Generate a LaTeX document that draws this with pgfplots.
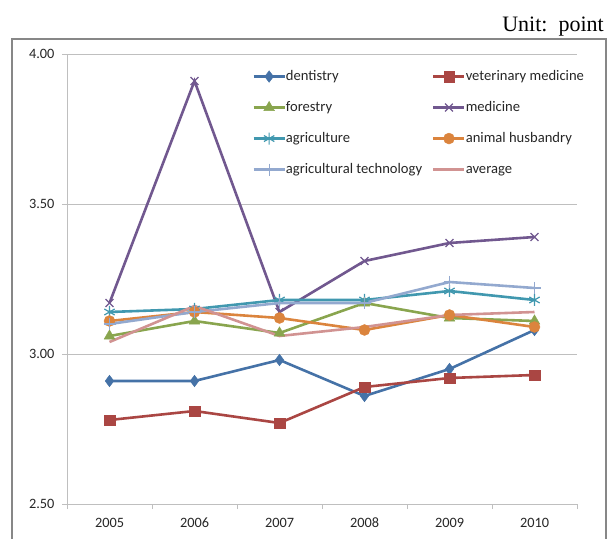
\documentclass[border=0pt]{standalone}
\usepackage{pgfplots}
\pgfplotsset{compat=1.18}
\usepackage{fontspec}
\setmainfont{Carlito}
\newfontfamily\unitfont{Liberation Serif}

\definecolor{cDent}{HTML}{4572A7}
\definecolor{cVet}{HTML}{AA4643}
\definecolor{cFor}{HTML}{89A54E}
\definecolor{cMed}{HTML}{71588F}
\definecolor{cAgr}{HTML}{4198AF}
\definecolor{cAni}{HTML}{DB843D}
\definecolor{cTec}{HTML}{93A9CF}
\definecolor{cAvg}{HTML}{D19392}
\definecolor{borderGray}{HTML}{878787}
\definecolor{gridGray}{HTML}{BFBFBF}

\begin{document}
\begin{tikzpicture}[x=1pt,y=1pt]
\useasboundingbox (0,0) rectangle (615,538);
% outer frame of the chart
\draw[line width=1.6pt, borderGray] (12,-3) -- (12,499) -- (606,499) -- (606,-3);
\node[anchor=base east, inner sep=0pt, font=\unitfont\fontsize{22}{26}\selectfont] at (604,506) {Unit:\ \ point};

\begin{axis}[
  at={(67pt,34pt)}, anchor=south west,
  scale only axis, width=510pt, height=450pt,
  xmin=0, xmax=6, ymin=2.5, ymax=4,
  axis lines=left,
  axis line style={-, draw=gridGray, line width=0.9pt},
  xtick={0,1,2,3,4,5,6},
  x tick label as interval,
  xticklabels={2005,2006,2007,2008,2009,2010},
  xticklabel style={anchor=north, text height=10pt, text depth=0pt, yshift=-5pt},
  ytick={2.5,3,3.5,4},
  yticklabel style={xshift=-4pt, /pgf/number format/.cd, fixed, fixed zerofill, precision=2},
  tick label style={/pgf/number format/assume math mode=true, font=\fontsize{14.3}{16}\selectfont, text=black!85},
  tick align=outside,
  major tick length=5pt,
  tick style={draw=gridGray, line width=0.9pt},
  ymajorgrids,
  grid style={draw=gridGray, line width=0.9pt},
  every axis plot/.append style={line width=2.6pt},
  legend columns=2,
  legend cell align=left,
  legend image code/.code={\draw[mark repeat=2,mark phase=2,#1] plot coordinates {(0pt,0pt) (15.5pt,0pt) (31pt,0pt)};},
  legend style={at={(axis description cs:0.363,0.967)}, anchor=north west,
    draw=none, fill=none, inner sep=0pt,
    font=\fontsize{14.6}{16}\selectfont, text=black!85,
    row sep=16pt,
    /tikz/every even column/.append style={column sep=10pt},
    nodes={inner xsep=0pt, inner ysep=1pt, text height=10pt, text depth=3pt}},
]
\addplot[cDent, mark=diamond*, mark size=5.8pt, mark options={solid, fill=cDent, line width=0.4pt}]
  coordinates {(0.5,2.91) (1.5,2.91) (2.5,2.98) (3.5,2.86) (4.5,2.95) (5.5,3.08)};
\addlegendentry{dentistry}
\addplot[cVet, mark=square*, mark size=5.2pt, mark options={solid, fill=cVet, line width=0.4pt}]
  coordinates {(0.5,2.78) (1.5,2.81) (2.5,2.77) (3.5,2.89) (4.5,2.92) (5.5,2.93)};
\addlegendentry{veterinary medicine}
\addplot[cFor, mark=triangle*, mark size=6.2pt, mark options={solid, fill=cFor, line width=0.4pt}]
  coordinates {(0.5,3.06) (1.5,3.11) (2.5,3.07) (3.5,3.17) (4.5,3.12) (5.5,3.11)};
\addlegendentry{forestry}
\addplot[cMed, mark=x, mark size=5.5pt, mark options={solid, line width=1.3pt}]
  coordinates {(0.5,3.17) (1.5,3.91) (2.5,3.14) (3.5,3.31) (4.5,3.37) (5.5,3.39)};
\addlegendentry{medicine}
\addplot[cAgr, mark=asterisk, mark size=6pt, mark options={solid, line width=1.2pt}]
  coordinates {(0.5,3.14) (1.5,3.15) (2.5,3.18) (3.5,3.18) (4.5,3.21) (5.5,3.18)};
\addlegendentry{agriculture}
\addplot[cAni, mark=*, mark size=5.5pt, mark options={solid, fill=cAni, line width=0.4pt}]
  coordinates {(0.5,3.11) (1.5,3.14) (2.5,3.12) (3.5,3.08) (4.5,3.13) (5.5,3.09)};
\addlegendentry{animal husbandry}
\addplot[cTec, mark=+, mark size=6pt, mark options={solid, line width=1.2pt}]
  coordinates {(0.5,3.10) (1.5,3.14) (2.5,3.17) (3.5,3.17) (4.5,3.24) (5.5,3.22)};
\addlegendentry{agricultural technology}
\addplot[cAvg, mark=none]
  coordinates {(0.5,3.04) (1.5,3.16) (2.5,3.06) (3.5,3.09) (4.5,3.13) (5.5,3.14)};
\addlegendentry{average}
\end{axis}
\end{tikzpicture}
\end{document}
